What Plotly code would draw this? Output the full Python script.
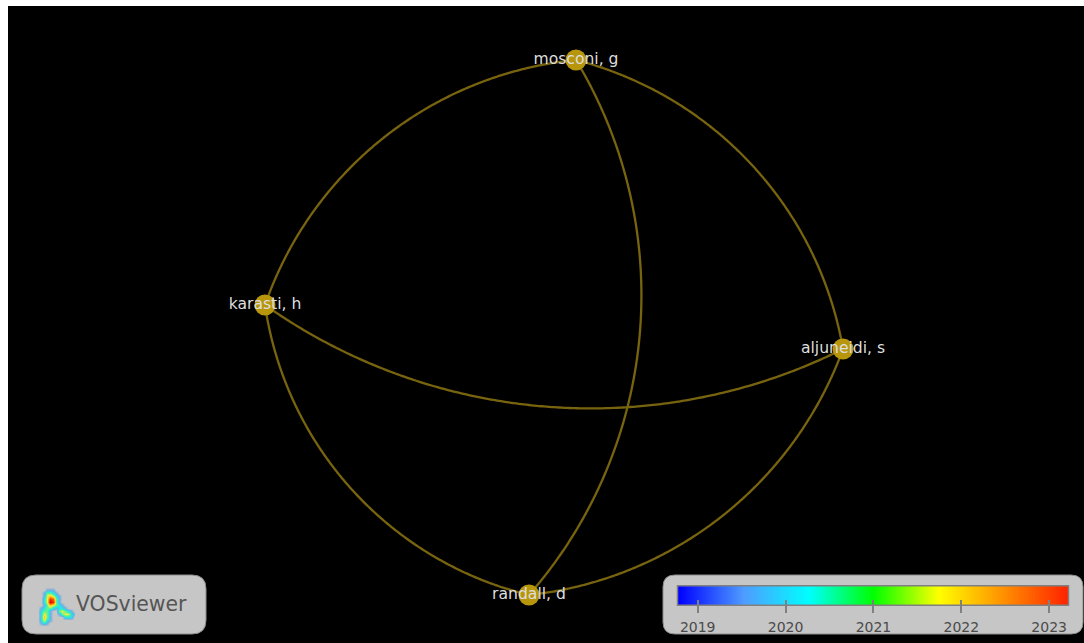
import numpy as np
import plotly.graph_objects as go

W, H = 1084, 643
X0, Y0 = 8, 6

authors = ["mosconi, g", "karasti, h", "aljuneidi, s", "randall, d"]
node_x = [576, 265, 843, 529]
node_y = [60, 305, 349, 595]
node_size = [21, 21, 21, 21]

edge_from = [0, 0, 0, 1, 1, 3]
edge_to = [1, 2, 3, 2, 3, 2]
edge_sag = [-58, 58, 87.5, -80, -60, -57]

years = [2019, 2020, 2021, 2022, 2023]
color_stops = [0, 0.17, 0.335, 0.5, 0.667, 1]
color_vals = ["#0000ff", "#4f9dff", "#00ffff", "#00ff00", "#ffff00", "#ff2000"]

logo_z = [
    [0, 0, 0, 0, 0, 0, 0, 0, 0, 0, 0, 0, 0, 0, 0],
    [0, 0, 0, 0, 0, 0, 0, 0, 0, 0, 0, 0, 0, 0, 0],
    [0, 0, 0, 0, 0, 1, 1, 1, 0, 0, 0, 0, 0, 0, 0],
    [0, 0, 0, 0, 1, 3, 3, 2, 1, 0, 0, 0, 0, 0, 0],
    [0, 0, 0, 0, 1, 4, 5, 4, 2, 1, 0, 0, 0, 0, 0],
    [0, 0, 0, 0, 2, 4, 8, 7, 3, 1, 0, 0, 0, 0, 0],
    [0, 0, 0, 0, 2, 4, 9, 8, 3, 1, 0, 0, 0, 0, 0],
    [0, 0, 0, 0, 1, 3, 5, 4, 3, 2, 1, 0, 0, 0, 0],
    [0, 0, 0, 1, 2, 3, 3, 2, 1, 2, 2, 1, 0, 0, 0],
    [0, 0, 0, 2, 3, 3, 1, 0, 0, 3, 4, 3, 2, 1, 0],
    [0, 0, 0, 2, 4, 3, 1, 0, 0, 1, 3, 4, 4, 2, 1],
    [0, 0, 0, 2, 5, 3, 1, 0, 0, 0, 0, 2, 2, 2, 0],
    [0, 0, 0, 2, 4, 2, 1, 0, 0, 0, 0, 0, 0, 0, 0],
    [0, 0, 0, 1, 2, 1, 0, 0, 0, 0, 0, 0, 0, 0, 0],
    [0, 0, 0, 0, 0, 0, 0, 0, 0, 0, 0, 0, 0, 0, 0],
]
logo_x = list(np.linspace(31.5, 73.5, 15))
logo_y = list(np.linspace(583.5, 625.5, 15))


def arc(a, b, sag, n=240):
    """Circular arc from node a to node b, bulging sag pixels off the chord."""
    p, q = np.array(a, float), np.array(b, float)
    chord = q - p
    c = np.hypot(*chord)
    nrm = np.array([chord[1], -chord[0]]) / c
    s = sag
    r = (c * c / 4 + s * s) / (2 * abs(s))
    centre = (p + q) / 2 + nrm * (s - np.sign(s) * r)
    a0 = np.arctan2(*(p - centre)[::-1])
    a1 = np.arctan2(*(q - centre)[::-1])
    d = (a1 - a0 + np.pi) % (2 * np.pi) - np.pi
    t = np.linspace(a0, a0 + d, n)
    return centre[0] + r * np.cos(t), centre[1] + r * np.sin(t)


def fx(px):
    return (px - X0) / (W - X0)


def fy(py):
    return (H - py) / (H - Y0)


fig = go.Figure()

for i, j, s in zip(edge_from, edge_to, edge_sag):
    ex, ey = arc((node_x[i], node_y[i]), (node_x[j], node_y[j]), s)
    fig.add_trace(go.Scatter(x=ex, y=ey, mode="lines", hoverinfo="skip",
                             line=dict(color="#78640e", width=2.3, simplify=False)))

fig.add_trace(go.Scatter(x=node_x, y=node_y, mode="markers+text", text=authors,
                         textposition="middle center",
                         textfont=dict(family="DejaVu Sans", size=15.6, color="#dedede"),
                         marker=dict(size=node_size, color="#b8960c", opacity=1,
                                     line=dict(width=0))))

# colour bar
bar_lo, bar_hi = 2018.77, 2023.22
bar_vals = np.linspace(bar_lo, bar_hi, 256)
fig.add_trace(go.Heatmap(x=bar_vals, y=[0, 1], z=[bar_vals, bar_vals],
                         xaxis="x2", yaxis="y2", showscale=False, hoverinfo="skip",
                         zmin=bar_lo, zmax=bar_hi, zsmooth="best",
                         colorscale=[[a, b] for a, b in zip(color_stops, color_vals)]))

# logo
fig.add_trace(go.Heatmap(x=logo_x, y=logo_y, z=logo_z, xaxis="x3", yaxis="y3",
                         showscale=False, hoverinfo="skip", zsmooth="best", zmin=0, zmax=9,
                         colorscale=[[0, "#c6c6c6"], [0.11, "#6fb0e0"],
                                     [0.22, "#20e8e8"], [0.33, "#60f090"], [0.45, "#f4f040"],
                                     [0.7, "#ff8000"], [1, "#e00000"]]))

fig.update_layout(
    width=W, height=H, showlegend=False,
    paper_bgcolor="white", plot_bgcolor="black",
    margin=dict(l=X0, t=Y0, r=0, b=0),
    xaxis=dict(range=[X0, W], visible=False),
    yaxis=dict(range=[H, Y0], visible=False),
    xaxis2=dict(domain=[fx(677.5), fx(1068.5)], range=[bar_lo, bar_hi], anchor="free",
                position=fy(599), tickvals=years, ticks="outside", ticklen=13, tickwidth=1.5,
                tickcolor="#808080", showgrid=False, zeroline=False, showline=False,
                ticklabelstandoff=2,
                tickfont=dict(family="DejaVu Sans", size=14, color="#4a4a4a")),
    yaxis2=dict(domain=[fy(605.3), fy(585.7)], range=[0, 1], anchor="x2", visible=False),
    xaxis3=dict(domain=[fx(30), fx(75)], range=[30, 75], anchor="y3", visible=False),
    yaxis3=dict(domain=[fy(627), fy(582)], range=[627, 582], anchor="x3", visible=False),
    shapes=[
        dict(type="path", xref="x", yref="y", layer="below", fillcolor="#c6c6c6",
             line=dict(color="#8c8c8c", width=1),
             path=f"M{a+r},{t} L{b-r},{t} Q{b},{t} {b},{t+r} L{b},{u-r} Q{b},{u} {b-r},{u} "
                  f"L{a+r},{u} Q{a},{u} {a},{u-r} L{a},{t+r} Q{a},{t} {a+r},{t} Z")
        for a, b, t, u, r in [(22, 206, 575, 634, 14), (663, 1083, 575, 634, 12)]
    ] + [
        dict(type="rect", xref="x2 domain", yref="y2 domain", x0=0, x1=1, y0=0, y1=1,
             layer="above", line=dict(color="#808080", width=1.5))
    ],
    annotations=[dict(x=74, y=604, xref="x", yref="y", text="VOSviewer", showarrow=False,
                      xanchor="left", yanchor="middle",
                      font=dict(family="DejaVu Sans", size=20.4, color="#555555"))],
)

fig.write_html("out.html", config=dict(displayModeBar=False),
               post_script="document.body.style.margin='0';document.body.style.overflow='hidden';")
